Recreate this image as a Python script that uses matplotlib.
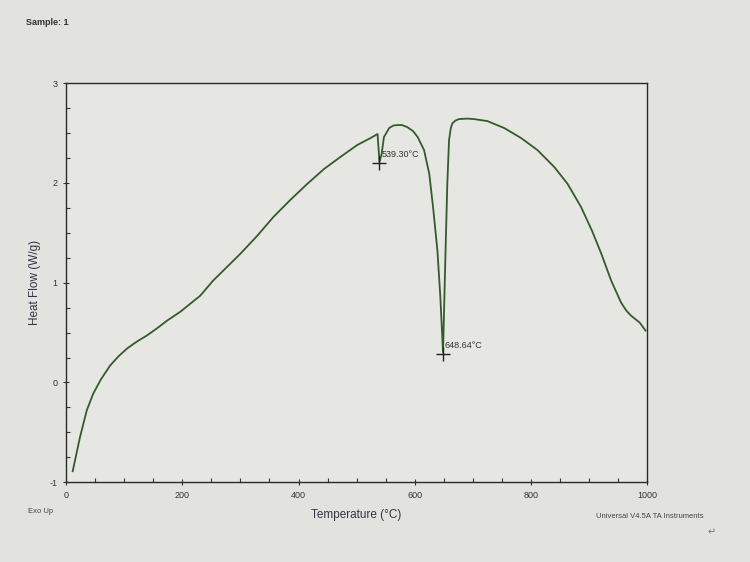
import matplotlib.pyplot as plt
import matplotlib.ticker as tck

# DSC curve
temp = [11.5, 24, 35.7, 47, 60, 76, 90, 105, 122, 139, 156, 174, 197, 231,
        253, 300, 329, 357, 386, 415, 444, 472, 501, 524, 536, 539.3, 543,
        547, 556, 563, 570, 578, 587, 597, 605, 616, 625, 632, 639, 644,
        648.64, 653, 656, 659, 662, 665, 670, 676, 690, 702, 725, 754, 783,
        811, 840, 863, 886, 905, 921, 938, 955, 964, 972, 987, 997]
heat_flow = [-0.89, -0.55, -0.28, -0.11, 0.03, 0.17, 0.26, 0.34, 0.41, 0.47,
             0.54, 0.62, 0.71, 0.87, 1.02, 1.29, 1.47, 1.66, 1.83, 1.99, 2.14,
             2.26, 2.38, 2.45, 2.49, 2.21, 2.29, 2.46, 2.55, 2.575, 2.58, 2.58,
             2.56, 2.52, 2.46, 2.33, 2.09, 1.73, 1.32, 0.86, 0.30, 1.32, 1.99,
             2.43, 2.55, 2.60, 2.625, 2.64, 2.645, 2.64, 2.62, 2.55, 2.45,
             2.33, 2.16, 1.99, 1.76, 1.52, 1.29, 1.02, 0.80, 0.72, 0.67, 0.60,
             0.52]

peak_temps = [539.30, 648.64]
peak_flows = [2.20, 0.29]
peak_labels = ['539.30°C', '648.64°C']

bg = '#e2e3df'
plt.rcParams['font.family'] = ['Liberation Sans', 'DejaVu Sans']
plt.rcParams['axes.unicode_minus'] = False

fig = plt.figure(figsize=(7.5, 5.62), dpi=100, facecolor=bg)
ax = fig.add_axes([0.088, 0.142, 0.775, 0.71], facecolor='#e6e7e3')

ax.plot(temp, heat_flow, color='#355a2c', linewidth=1.3)
ax.plot(peak_temps, peak_flows, '+', color='#222222', markersize=10,
        markeredgewidth=1.0)
for t, h, s in zip(peak_temps, peak_flows, peak_labels):
    ax.text(t + 3, h + 0.04, s, fontsize=6.5, color='#333333',
            ha='left', va='bottom')

ax.set_xlim(0, 1000)
ax.set_ylim(-1, 3)
ax.xaxis.set_major_locator(tck.MultipleLocator(200))
ax.xaxis.set_minor_locator(tck.MultipleLocator(50))
ax.yaxis.set_major_locator(tck.MultipleLocator(1))
ax.yaxis.set_minor_locator(tck.MultipleLocator(0.25))
ax.tick_params(which='major', direction='inout', length=5, width=0.8,
               labelsize=6.5, colors='#333333')
ax.tick_params(which='minor', direction='in', length=3, width=0.8,
               colors='#333333')
for sp in ax.spines.values():
    sp.set_color('#2a2a2a')
    sp.set_linewidth(1.0)

ax.set_xlabel('Temperature (°C)', fontsize=8.5, color='#333344', labelpad=7)
ax.set_ylabel('Heat Flow (W/g)', fontsize=8.5, color='#333344', labelpad=6)

fig.text(0.034, 0.955, 'Sample: 1', fontsize=6.5, fontweight='bold',
         color='#333333')
fig.text(0.037, 0.088, 'Exo Up', fontsize=5.5, color='#444444')
fig.text(0.867, 0.079, 'Universal V4.5A TA Instruments', fontsize=5.5,
         color='#444444', ha='center')
fig.text(0.944, 0.048, '↵', fontsize=7, color='#777777')

fig.savefig('out.png', dpi=100, facecolor=bg)
